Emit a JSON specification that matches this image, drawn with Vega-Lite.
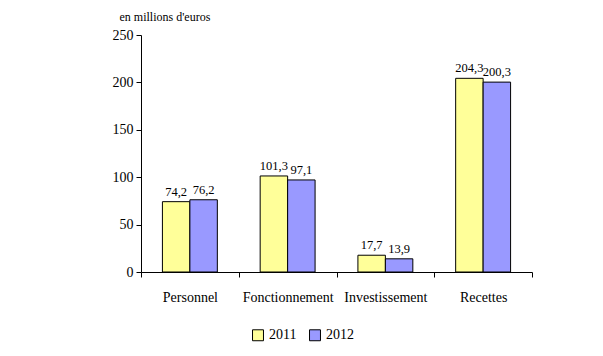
{
  "$schema": "https://vega.github.io/schema/vega-lite/v6.json",
  "autosize": {"type": "none"},
  "width": 391,
  "height": 237,
  "padding": {"left": 141, "top": 35, "right": 71, "bottom": 84},
  "background": "white",
  "config": {
    "view": {"stroke": null},
    "font": "Liberation Serif",
    "axis": {"labelFont": "Liberation Serif", "titleFont": "Liberation Serif"},
    "legend": {"labelFont": "Liberation Serif"},
    "text": {"font": "Liberation Serif"},
    "locale": {"number": {"decimal": ",", "thousands": " ", "grouping": [3], "currency": ["", " €"]}}
  },
  "data": {
    "values": [
      {"cat": "Personnel", "year": "2011", "value": 74.2},
      {"cat": "Personnel", "year": "2012", "value": 76.2},
      {"cat": "Fonctionnement", "year": "2011", "value": 101.3},
      {"cat": "Fonctionnement", "year": "2012", "value": 97.1},
      {"cat": "Investissement", "year": "2011", "value": 17.7},
      {"cat": "Investissement", "year": "2012", "value": 13.9},
      {"cat": "Recettes", "year": "2011", "value": 204.3},
      {"cat": "Recettes", "year": "2012", "value": 200.3}
    ]
  },
  "encoding": {
    "x": {
      "field": "cat", "type": "nominal", "sort": null,
      "scale": {"paddingInner": 0, "paddingOuter": 0},
      "axis": {
        "title": null, "labelAngle": 0, "tickBand": "extent",
        "domainColor": "black", "tickColor": "black", "tickSize": 5,
        "labelFontSize": 14, "labelColor": "black", "labelPadding": 13,
        "labelFont": "Liberation Serif"
      }
    },
    "xOffset": {"field": "year", "type": "nominal", "scale": {"paddingInner": 0, "paddingOuter": 0.78}},
    "y": {
      "field": "value", "type": "quantitative",
      "scale": {"domain": [0, 250], "nice": false},
      "axis": {
        "values": [0, 50, 100, 150, 200, 250], "grid": false,
        "domainColor": "black", "tickColor": "black", "tickSize": 5,
        "labelFontSize": 14, "labelColor": "black", "labelPadding": 3,
        "labelFont": "Liberation Serif",
        "title": "en millions d'euros", "titleAngle": 0, "titleAlign": "left",
        "titleBaseline": "bottom", "titleX": -22, "titleY": -12,
        "titleFontSize": 12, "titleFontWeight": "normal", "titleColor": "black",
        "titleFont": "Liberation Serif"
      }
    }
  },
  "layer": [
    {
      "mark": {"type": "bar", "stroke": "black", "strokeWidth": 1},
      "encoding": {
        "fill": {
          "field": "year", "type": "nominal",
          "scale": {"domain": ["2011", "2012"], "range": ["#FFFF99", "#9999FF"]},
          "legend": {
            "title": null, "orient": "none", "direction": "horizontal",
            "legendX": 110, "legendY": 293,
            "symbolType": "square", "symbolSize": 120, "symbolStrokeColor": "black",
            "symbolStrokeWidth": 1, "labelFontSize": 14, "labelColor": "black",
            "labelFont": "Liberation Serif", "columnPadding": 10, "labelOffset": 4
          }
        }
      }
    },
    {
      "mark": {"type": "text", "baseline": "bottom", "dy": -3, "fontSize": 12.5, "color": "black", "font": "Liberation Serif"},
      "encoding": {
        "text": {"field": "value", "type": "quantitative", "format": ".1f"}
      }
    }
  ]
}
